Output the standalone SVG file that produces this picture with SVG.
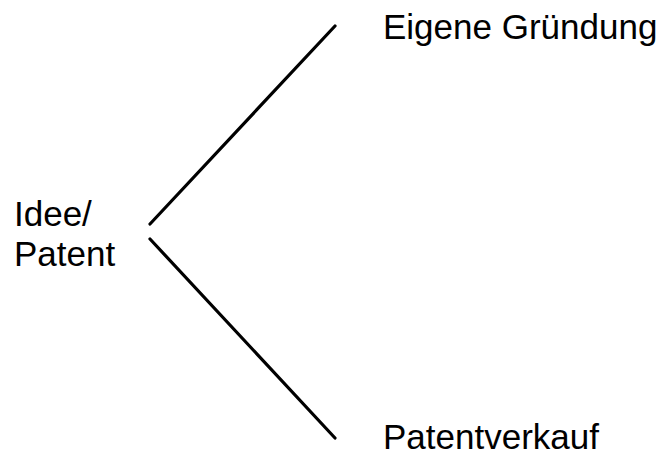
<svg xmlns="http://www.w3.org/2000/svg" width="667" height="457" viewBox="0 0 667 457">
<style>
text{font-family:"Liberation Sans",Arial,sans-serif;font-size:35px;fill:#000}
.c{stroke:#000;stroke-width:3.2;fill:none;stroke-linecap:round}
</style>
<rect width="667" height="457" fill="#fff"/>
<g id="connectors">
<line class="c" x1="150" y1="224" x2="335" y2="26"/>
<line class="c" x1="150" y1="239" x2="335" y2="438"/>
</g>
<g id="idee"><text x="14" y="226">Idee/</text><text x="14" y="266">Patent</text></g>
<g id="gruendung"><text x="383" y="39">Eigene Gründung</text></g>
<g id="verkauf"><text x="383" y="449">Patentverkauf</text></g>
</svg>
